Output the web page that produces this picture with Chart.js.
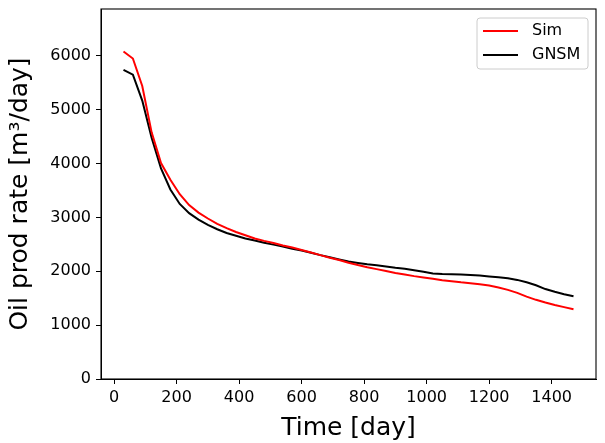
<!DOCTYPE html>
<html>
<head>
<meta charset="utf-8">
<script src="https://cdn.jsdelivr.net/npm/chart.js@4"></script>
<style>
html,body{margin:0;padding:0;background:#fff;}
#wrap{width:605px;height:443px;position:relative;}
</style>
</head>
<body>
<div id="wrap"><canvas id="c"></canvas></div>
<script>
const days = [30,60,90,120,150,180,210,240,270,300,330,360,390,420,450,480,510,540,570,600,630,660,690,720,750,780,810,840,870,900,930,960,990,1020,1050,1080,1110,1140,1170,1200,1230,1260,1290,1320,1350,1380,1410,1440,1470];
const simValues = [6080,5950,5440,4580,4010,3700,3430,3230,3090,2980,2880,2800,2730,2670,2610,2565,2525,2480,2440,2395,2350,2300,2250,2210,2160,2115,2075,2040,2005,1970,1940,1910,1885,1860,1835,1815,1795,1780,1760,1735,1700,1655,1600,1530,1470,1420,1375,1335,1295];
const gnsmValues = [5740,5650,5170,4480,3910,3520,3250,3080,2960,2860,2780,2710,2660,2610,2570,2530,2495,2460,2420,2385,2345,2300,2260,2220,2180,2155,2130,2110,2090,2065,2045,2020,1990,1960,1950,1945,1940,1930,1920,1905,1890,1870,1840,1795,1740,1670,1620,1575,1535];
const seriesNames = ['Sim','GNSM'];
const seriesColors = ['#ff0000','#000000'];
const xTicks = [0,200,400,600,800,1000,1200,1400];
const yTicks = [0,1000,2000,3000,4000,5000,6000];
const xTitle = 'Time [day]';
const yTitle = 'Oil prod rate [m\u00B3/day]';

const FONT = "'DejaVu Sans', sans-serif";

function pts(vals){ return days.map((d,i)=>({x:d,y:vals[i]})); }

const frame = {
  id:'frame',
  afterDatasetsDraw(chart){
    const a = chart.chartArea, ctx = chart.ctx;
    ctx.save();
    ctx.strokeStyle = '#000';
    ctx.lineWidth = 1.1;
    ctx.strokeRect(a.left, a.top, a.right - a.left, a.bottom - a.top);
    ctx.restore();
  }
};

const legendBox = {
  id:'legendBox',
  afterDraw(chart){
    const ctx = chart.ctx;
    const x0 = 477, y0 = 18, w = 111, h = 51, r = 3;
    ctx.save();
    ctx.globalAlpha = 0.8;
    ctx.fillStyle = '#fff';
    ctx.beginPath();
    ctx.roundRect(x0, y0, w, h, r);
    ctx.fill();
    ctx.globalAlpha = 1;
    ctx.strokeStyle = '#cccccc';
    ctx.lineWidth = 1;
    ctx.stroke();
    const rows = [31, 55];
    chart.data.datasets.forEach((ds, i) => {
      const y = rows[i];
      ctx.strokeStyle = ds.borderColor;
      ctx.lineWidth = 2;
      ctx.beginPath();
      ctx.moveTo(483, y);
      ctx.lineTo(518, y);
      ctx.stroke();
      ctx.fillStyle = '#000';
      ctx.font = '16px ' + FONT;
      ctx.textBaseline = 'middle';
      ctx.textAlign = 'left';
      ctx.fillText(ds.label, 532, y);
    });
    ctx.restore();
  }
};

new Chart(document.getElementById('c'), {
  type: 'line',
  data: {
    datasets: [
      {label: seriesNames[0], data: pts(simValues), borderColor: seriesColors[0], backgroundColor: seriesColors[0], borderWidth: 2, pointRadius: 0, tension: 0, fill: false},
      {label: seriesNames[1], data: pts(gnsmValues), borderColor: seriesColors[1], backgroundColor: seriesColors[1], borderWidth: 2, pointRadius: 0, tension: 0, fill: false}
    ]
  },
  options: {
    responsive: true,
    maintainAspectRatio: false,
    animation: false,
    layout: {padding: {left: 0, right: 9, top: 9, bottom: 0}},
    plugins: {legend: {display: false}, tooltip: {enabled: false}},
    scales: {
      x: {
        type: 'linear',
        min: -42, max: 1542,
        afterFit(s){ s.height = 64; s.paddingLeft = 0; s.paddingRight = 0; },
        afterBuildTicks(s){ s.ticks = xTicks.map(v => ({value: v})); },
        ticks: {autoSkip: false, color: '#000', font: {family: FONT, size: 16}, padding: 4, maxRotation: 0, callback: v => String(v)},
        grid: {drawOnChartArea: false, drawTicks: true, tickLength: 5, color: '#000', tickWidth: 1},
        border: {display: true, color: '#000'},
        title: {display: true, text: xTitle, color: '#000', font: {family: FONT, size: 25}, padding: {top: 0, bottom: 0}}
      },
      y: {
        type: 'linear',
        min: 0, max: 6870,
        afterFit(s){ s.width = 101; s.paddingTop = 0; s.paddingBottom = 0; },
        afterBuildTicks(s){ s.ticks = yTicks.map(v => ({value: v})); },
        ticks: {autoSkip: false, color: '#000', font: {family: FONT, size: 16}, padding: 5, callback: v => String(v)},
        grid: {drawOnChartArea: false, drawTicks: true, tickLength: 5, color: '#000', tickWidth: 1},
        border: {display: true, color: '#000'},
        title: {display: true, text: yTitle, color: '#000', font: {family: FONT, size: 25}, padding: {top: 5, bottom: 0}}
      }
    }
  },
  plugins: [frame, legendBox]
});
</script>
</body>
</html>
